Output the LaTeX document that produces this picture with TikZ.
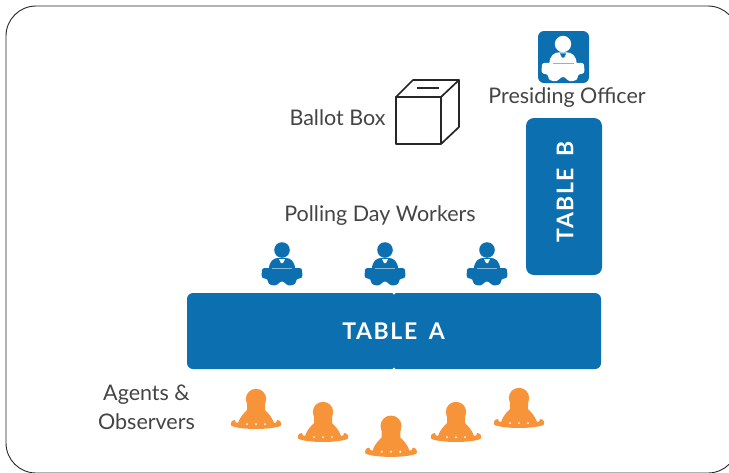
\documentclass[tikz,border=0pt]{standalone}
\usepackage{fontspec}
\setmainfont{Lato}
\newfontfamily\tablefont[LetterSpace=7,WordSpace=1.6]{Lato}
\definecolor{tableblue}{HTML}{0B6FB0}
\definecolor{agentorange}{HTML}{F7943A}
\definecolor{labelgrey}{HTML}{444444}
\tikzset{
        tablebox/.style={fill=tableblue, rounded corners=6pt, inner sep=0pt},
        tablelabel/.style={text=white, font=\tablefont\bfseries\fontsize{23}{25}\selectfont, inner sep=0pt},
        caption/.style={text=labelgrey, font=\fontsize{21.5}{24}\selectfont, inner sep=0pt, align=center},
        boxline/.style={draw=black!85, line width=1.7pt, line join=round},
        pics/worker/.style args={#1/#2}{code={
                \fill [#1] (0,0) circle (7.8);
                \fill [#1] (-13,19) .. controls (-13,11) and (-8,8) .. (-4,8) -- (4,8) .. controls (8,8) and (13,11) .. (13,19) -- cycle;
                \fill [#1, rounded corners=2.5pt] (-20,18) -- (20,18) -- (20.5,28) -- (14,29) -- (14,34) -- (6.5,36) -- (0,30.5)
                        -- (-6.5,36) -- (-14,34) -- (-14,29) -- (-20.5,28) -- cycle;
                \fill [#2] (-3,9) -- (3,9) -- (1,13) -- (-1,13) -- cycle;
                \draw [#2, opacity=0.5, line width=0.6pt] (-10,18.2) -- (10,18.2);
        }},
        pics/observer/.style={code={
                \fill [agentorange] (0,0) circle (10.2);
                \fill [agentorange] (-9,4) -- (9,4) -- (9,11) .. controls (12,14) and (16,18) .. (18,24)
                        .. controls (20,24) and (21,23) .. (21,21) .. controls (25,21) and (26,25) .. (24.5,27)
                        .. controls (14,31) and (-14,31) .. (-24.5,27) .. controls (-26,25) and (-25,21) .. (-21,21)
                        .. controls (-21,23) and (-20,24) .. (-18,24) .. controls (-16,18) and (-12,14) .. (-9,11) -- cycle;
                \foreach \dotx in {-9,0,9}
                        \fill [white] (\dotx,25) circle (1);
        }},
}
\begin{document}
\begin{tikzpicture}[x=1pt, y=-1pt]
        \useasboundingbox (0,0) rectangle (729,472);
        \draw [black!85, line width=0.9pt, rounded corners=30pt] (6,6) rectangle (738,473);
        \node (tableA) [tablebox, minimum width=414pt, minimum height=76pt] at (394,331) {};
        \node (tableAtext) [tablelabel] at (393.5,331) {TABLE A};
        \node (tableB) [tablebox, rounded corners=8pt, minimum width=76pt, minimum height=157pt] at (564,196.5) {};
        \node (tableBtext) [tablelabel, rotate=90] at (565,192) {TABLE B};
        \fill [white] (394,293) circle (1.5);
        \fill [white] (394,369) circle (1.5);
        \node (officertile) [fill=tableblue, rounded corners=6pt, minimum width=51pt, minimum height=52pt, inner sep=0pt] at (563.5,57) {};
        \pic at (563,44) [scale=1.05] {worker=white/tableblue};
        \node (officer) [caption] at (567,98) {Presiding Officer};
        \node (ballot) [caption] at (337.5,118) {Ballot Box};
        \draw [boxline] (396,97) rectangle (441,144);
        \draw [boxline] (396,97) -- (413,80) -- (459,80) -- (441,97);
        \draw [boxline] (459,80) -- (459,127) -- (441,144);
        \draw [boxline] (417,88) -- (439,88);
        \node (workers) [caption] at (380,216) {Polling Day Workers};
        \pic at (282,250) {worker=tableblue/white};
        \pic at (385,250) {worker=tableblue/white};
        \pic at (487,250) {worker=tableblue/white};
        \node (agents) [caption] at (146.5,395) {Agents \&};
        \node (observers) [caption] at (146.5,422) {Observers};
        \pic at (256,399) {observer};
        \pic at (323,412) {observer};
        \pic at (391,426) [scale=1.03] {observer};
        \pic at (456,412) {observer};
        \pic at (519,398) {observer};
\end{tikzpicture}
\end{document}
